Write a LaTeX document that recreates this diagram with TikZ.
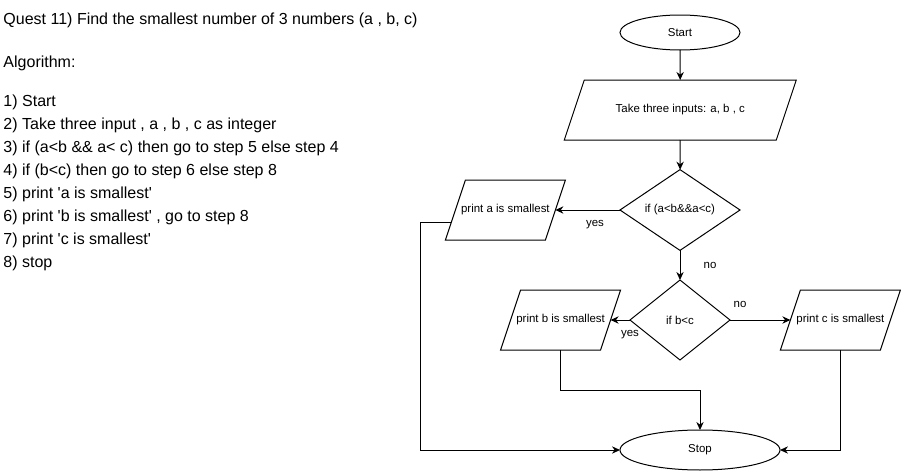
\documentclass[tikz,border=0pt]{standalone}
\usepackage{fontspec}
\setmainfont{Liberation Sans}
\usetikzlibrary{shapes.geometric,arrows.meta,calc}

\tikzset{
	term/.style={ellipse,draw,inner sep=0pt,outer sep=0pt,font=\fontsize{8.6}{10}\selectfont},
	io/.style={rectangle,minimum height=45pt,inner sep=0pt,outer sep=0pt,align=center,font=\fontsize{8.6}{10}\selectfont,
		append after command={\pgfextra{\draw ([xshift=-7.5pt]\tikzlastnode.south west) -- ([xshift=-7.5pt]\tikzlastnode.south east) -- ([xshift=7.5pt]\tikzlastnode.north east) -- ([xshift=7.5pt]\tikzlastnode.north west) -- cycle;}}},
	cond/.style={diamond,draw,inner sep=0pt,outer sep=0pt,font=\fontsize{8.6}{10}\selectfont},
	lbl/.style={inner sep=0pt,font=\fontsize{8.6}{10}\selectfont},
	algline/.style={anchor=base west,inner sep=0pt,font=\fontsize{12}{14}\selectfont}
}

\begin{document}
\begin{tikzpicture}[>={Stealth[length=6pt,width=5.5pt]},x=0.75pt,y=-0.75pt,line width=0.75pt]
		\useasboundingbox (0,0) rectangle (901,471);
		% algorithm text
		\node[algline] (title) at (3,25) {Quest 11) Find the smallest number of 3 numbers (a , b, c)};
		\node[algline] (algo) at (3,67) {Algorithm:};
		\foreach \t [count=\i] in {{1) Start},{2) Take three input , a , b , c as integer},{3) if (a<b \&\& a< c) then go to step 5 else step 4},{4) if (b<c) then go to step 6 else step 8},{5) print \textquotesingle a is smallest\textquotesingle},{6) print \textquotesingle b is smallest\textquotesingle\ , go to step 8},{7) print \textquotesingle c is smallest\textquotesingle},{8) stop}}
			\node[algline] (s\i) at (3,{106+23.1*(\i-1)}) {\t};
		% flowchart
		\node[term,minimum width=90pt,minimum height=26.25pt] (start) at (680,32.5) {Start};
		\node[io,minimum width=159pt] (inp) at (680.3,110) {Take three inputs: a, b , c};
		\node[cond,minimum width=90pt,minimum height=60pt] (ifa) at (680,210) {if (a<b\&\&a<c)};
		\node[io,minimum width=75pt] (pa) at (505.4,210) {print a is smallest};
		\node[cond,minimum width=75pt,minimum height=60pt] (ifb) at (680,320) {if b<c};
		\node[io,minimum width=75pt] (pb) at (560.6,320) {print b is smallest};
		\node[io,minimum width=75pt] (pc) at (840.4,320) {print c is smallest};
		\node[term,minimum width=120pt,minimum height=30pt] (stop) at (700,450) {Stop};
		\coordinate (lft) at (420,0);
		\coordinate (paexit) at ($(pa.west)+(-4,12)$);
		\draw[->] (start) -- (inp);
		\draw[->] (inp) -- (ifa);
		\draw[->] (ifa.west) -- (pa.east);
		\draw[->] (ifa.south) -- (ifb.north);
		\draw[->] (ifb.west) -- (pb.east);
		\draw[->] (ifb.east) -- (pc.west);
		\draw[->] (paexit) -- (paexit -| lft) |- (stop.west);
		\draw[->] (pb.south) -- ++(0,40) -| (stop.north);
		\draw[->] (pc.south) |- (stop.east);
		\node[lbl] (yesa) at (595,225) {yes};
		\node[lbl] (noa) at (710,265) {no};
		\node[lbl] (yesb) at (630,335) {yes};
		\node[lbl] (nob) at (740,304) {no};
\end{tikzpicture}
\end{document}
